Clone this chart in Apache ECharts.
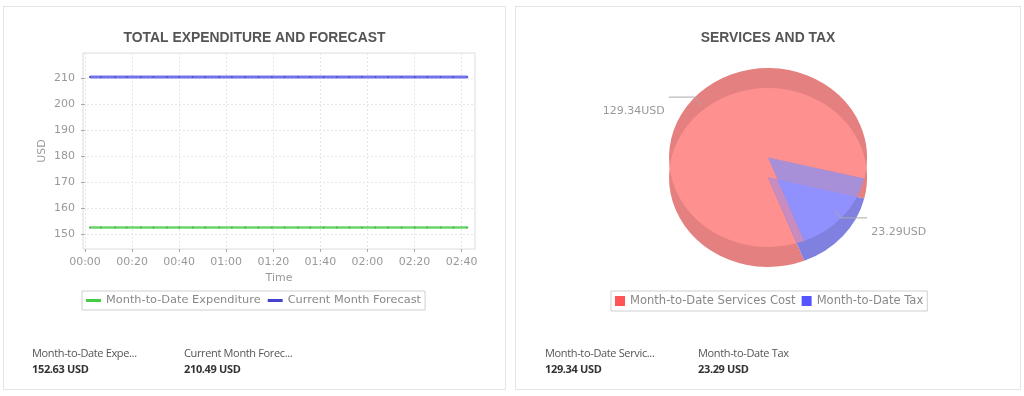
<!DOCTYPE html>
<html><head><meta charset="utf-8">
<script src="https://cdn.jsdelivr.net/npm/echarts@6/dist/echarts.min.js"></script>
<style>
html,body{margin:0;padding:0;background:#fff;width:1024px;height:396px;overflow:hidden;}
.panel{position:absolute;top:6px;height:384px;border:1px solid #e4e4e4;box-sizing:border-box;background:#fff;}
#p1{left:3px;width:503px;}
#p2{left:515px;width:506px;}
.chart{position:absolute;top:0;height:396px;}
#c1{left:0;width:509px;}
#c2{left:512px;width:512px;}
.sum{position:absolute;top:345px;font-family:'Open Sans';font-size:11px;letter-spacing:-0.35px;line-height:16px;white-space:nowrap;}
.sum .l{color:#555;}
.sum .v{color:#333;font-weight:bold;}
</style></head><body>
<div class="panel" id="p1"></div>
<div class="panel" id="p2"></div>
<div class="chart" id="c1"></div>
<div class="chart" id="c2"></div>
<div class="sum" style="left:32px"><div class="l">Month-to-Date Expe...</div><div class="v">152.63 USD</div></div>
<div class="sum" style="left:184px"><div class="l">Current Month Forec...</div><div class="v">210.49 USD</div></div>
<div class="sum" style="left:545px"><div class="l">Month-to-Date Servic...</div><div class="v">129.34 USD</div></div>
<div class="sum" style="left:698px"><div class="l">Month-to-Date Tax</div><div class="v">23.29 USD</div></div>
<script>
// ---- data: line chart ----
const lineSeriesNames = ['Month-to-Date Expenditure', 'Current Month Forecast'];
// sample times in minutes after 00:00
const times = [2.1, 6.8, 12.8, 17.7, 23.8, 29.1, 34.8, 40.0, 45.8, 51.1, 57.0, 62.4, 68.1, 73.7, 79.4,
               84.8, 90.5, 95.7, 101.4, 107.1, 112.3, 117.7, 123.4, 128.8, 134.5, 140.1, 145.4, 151.1, 156.5, 162.4];
const expenditure = [152.63, 152.63, 152.63, 152.63, 152.63, 152.63, 152.63, 152.63, 152.63, 152.63,
                     152.63, 152.63, 152.63, 152.63, 152.63, 152.63, 152.63, 152.63, 152.63, 152.63,
                     152.63, 152.63, 152.63, 152.63, 152.63, 152.63, 152.63, 152.63, 152.63, 152.63];
const forecast = [210.49, 210.49, 210.49, 210.49, 210.49, 210.49, 210.49, 210.49, 210.49, 210.49,
                  210.49, 210.49, 210.49, 210.49, 210.49, 210.49, 210.49, 210.49, 210.49, 210.49,
                  210.49, 210.49, 210.49, 210.49, 210.49, 210.49, 210.49, 210.49, 210.49, 210.49];
const yTicks = [150, 160, 170, 180, 190, 200, 210];
const xTicks = [0, 20, 40, 60, 80, 100, 120, 140, 160];
const xTickLabels = ['00:00', '00:20', '00:40', '01:00', '01:20', '01:40', '02:00', '02:20', '02:40'];

// ---- data: pie chart ----
const sliceNames = ['Month-to-Date Services Cost', 'Month-to-Date Tax'];
const sliceValues = [129.34, 23.29];

const FONT = 'DejaVu Sans';
const c1 = echarts.init(document.getElementById('c1'));
c1.setOption({
  animation: false,
  title: { text: 'TOTAL EXPENDITURE AND FORECAST', left: 'center', top: 30, padding: 0,
    textStyle: { fontFamily: 'Liberation Sans', fontWeight: 'bold', fontSize: 13.9, color: '#555', lineHeight: 16 } },
  legend: {
    left: 82, top: 291, padding: [4, 4, 4, 4], itemGap: 7, borderColor: '#cfcfcf', borderWidth: 1,
    icon: 'rect', itemWidth: 15, itemHeight: 3,
    textStyle: { fontFamily: FONT, fontSize: 11.35, color: '#888' },
    data: [
      { name: lineSeriesNames[0], itemStyle: { color: '#44cc44', borderWidth: 0 } },
      { name: lineSeriesNames[1], itemStyle: { color: '#4444cc', borderWidth: 0 } }
    ]
  },
  grid: { left: 83, top: 53, width: 392, height: 196, show: true, borderColor: '#dcdcdc', borderWidth: 1, containLabel: false },
  xAxis: {
    type: 'value', min: -0.85, max: 165.7,
    name: 'Time', nameLocation: 'middle', nameGap: 24,
    nameTextStyle: { fontFamily: FONT, fontSize: 11, color: '#999' },
    axisLine: { show: false },
    axisTick: { show: true, customValues: xTicks, length: 3, lineStyle: { color: '#aaa' } },
    axisLabel: { customValues: xTicks, margin: 8, fontFamily: FONT, fontSize: 11, color: '#999',
      formatter: v => xTickLabels[xTicks.indexOf(v)] },
    splitLine: { show: true, lineStyle: { color: '#e6e6e6', type: [2, 2] } }
  },
  yAxis: {
    type: 'value', min: 144.35, max: 219.73,
    name: 'USD', nameLocation: 'middle', nameGap: 35, nameMoveOverlap: false,
    nameTextStyle: { fontFamily: FONT, fontSize: 11, color: '#999' },
    axisLine: { show: false },
    axisTick: { show: true, customValues: yTicks, length: 4, lineStyle: { color: '#aaa' } },
    axisLabel: { customValues: yTicks, margin: 8, fontFamily: FONT, fontSize: 11, color: '#999' },
    splitLine: { show: true, lineStyle: { color: '#e6e6e6', type: [2, 2] } }
  },
  series: [
    { name: lineSeriesNames[0], type: 'line', data: times.map((t, i) => [t, expenditure[i]]),
      symbol: 'circle', symbolSize: 2, showAllSymbol: true,
      lineStyle: { color: '#6ad66a', width: 2.5 }, itemStyle: { color: '#50b050' } },
    { name: lineSeriesNames[1], type: 'line', data: times.map((t, i) => [t, forecast[i]]),
      symbol: 'circle', symbolSize: 2, showAllSymbol: true,
      lineStyle: { color: '#7474ea', width: 3 }, itemStyle: { color: '#5252c8' } }
  ]
});

// ---- pseudo-3D pie via custom series ----
const PIE = { cx: 256, cyBack: 157.5, cyFront: 177.5, rx: 99, ry: 89.5, start: -68.5 };
const faceLight = ['#ff9090', '#9090ff'];
const layerColors = [
  [['back', '#e58080'], ['front', '#e58080']],
  [['front', '#8080e0'], ['back', '#a890d8']]
];
const overlapColor = '#c98cc0';
function pt(cy, deg, f) {
  const a = deg * Math.PI / 180;
  return [PIE.cx + PIE.rx * f * Math.cos(a), cy - PIE.ry * f * Math.sin(a)];
}
function sectorPath(cy, a0, a1) {
  const p0 = pt(cy, a0, 1), p1 = pt(cy, a1, 1);
  const large = (a0 - a1) > 180 ? 1 : 0;
  return 'M' + PIE.cx + ' ' + cy + 'L' + p0[0] + ' ' + p0[1] + 'A' + PIE.rx + ' ' + PIE.ry + ' 0 ' + large + ' 1 ' + p1[0] + ' ' + p1[1] + 'Z';
}
function sliceAngles(k) {
  const total = sliceValues.reduce((a, b) => a + b, 0);
  let a0 = PIE.start;
  for (let i = 0; i < k; i++) a0 -= sliceValues[i] / total * 360;
  return [a0, a0 - sliceValues[k] / total * 360];
}
function makeRender(k) {
  return function (params, api) {
    const [a0, a1] = sliceAngles(k);
    const val = api.value(0);
    const children = [];
    layerColors[k].forEach(([which, color]) => {
      const cy = which === 'back' ? PIE.cyBack : PIE.cyFront;
      children.push({ type: 'path', shape: { pathData: sectorPath(cy, a0, a1) }, style: { fill: color } });
      if (k > 0 && which === 'front') {
        // earlier slice's back wall seen through this slice's front wall
        const [b0, b1] = sliceAngles(k - 1);
        children.push({ type: 'path', shape: { pathData: sectorPath(PIE.cyBack, b0, b1) }, style: { fill: overlapColor },
          clipPath: { type: 'path', shape: { pathData: sectorPath(PIE.cyFront, a0, a1) } } });
      }
    });
    children.push({
      type: 'path', shape: { pathData: sectorPath(PIE.cyFront, a0, a1) }, style: { fill: faceLight[k] },
      clipPath: { type: 'path', shape: { pathData: sectorPath(PIE.cyBack, a0, a1) } }
    });
    // label with leader line
    const mid = (a0 + a1) / 2;
    const s = pt(PIE.cyBack, mid, 0.9);
    const sx = Math.cos(mid * Math.PI / 180) >= 0 ? 1 : -1;
    const sy = Math.sin(mid * Math.PI / 180) >= 0 ? -1 : 1;
    const e = [s[0] + sx * 5, s[1] + sy * 7.5];
    const end = [e[0] + sx * 27, e[1]];
    children.push({ type: 'polyline', shape: { points: [s, e, end] }, style: { stroke: '#aaa', fill: null, lineWidth: 1 } });
    children.push({ type: 'text', style: { text: val.toFixed(2) + 'USD', x: end[0] + sx * 4, y: end[1] + 14,
      align: sx > 0 ? 'left' : 'right', verticalAlign: 'middle', fill: '#999', font: '11px "DejaVu Sans"' } });
    return { type: 'group', children };
  };
}
const c2 = echarts.init(document.getElementById('c2'));
c2.setOption({
  animation: false,
  title: { text: 'SERVICES AND TAX', left: 'center', top: 30, padding: 0,
    textStyle: { fontFamily: 'Liberation Sans', fontWeight: 'bold', fontSize: 13.9, color: '#555', lineHeight: 16 } },
  legend: {
    left: 99, top: 291, padding: [4, 4, 4, 4], itemGap: 6, borderColor: '#cfcfcf', borderWidth: 1,
    icon: 'rect', itemWidth: 10, itemHeight: 10,
    textStyle: { fontFamily: FONT, fontSize: 11.55, color: '#888' },
    data: [
      { name: sliceNames[0], itemStyle: { color: '#ff5555', borderWidth: 0 } },
      { name: sliceNames[1], itemStyle: { color: '#5555ff', borderWidth: 0 } }
    ]
  },
  series: sliceNames.map((n, k) => ({
    name: n, type: 'custom', coordinateSystem: 'none', renderItem: makeRender(k),
    itemStyle: { color: faceLight[k] },
    data: [[sliceValues[k]]]
  }))
});
</script>
</body></html>
